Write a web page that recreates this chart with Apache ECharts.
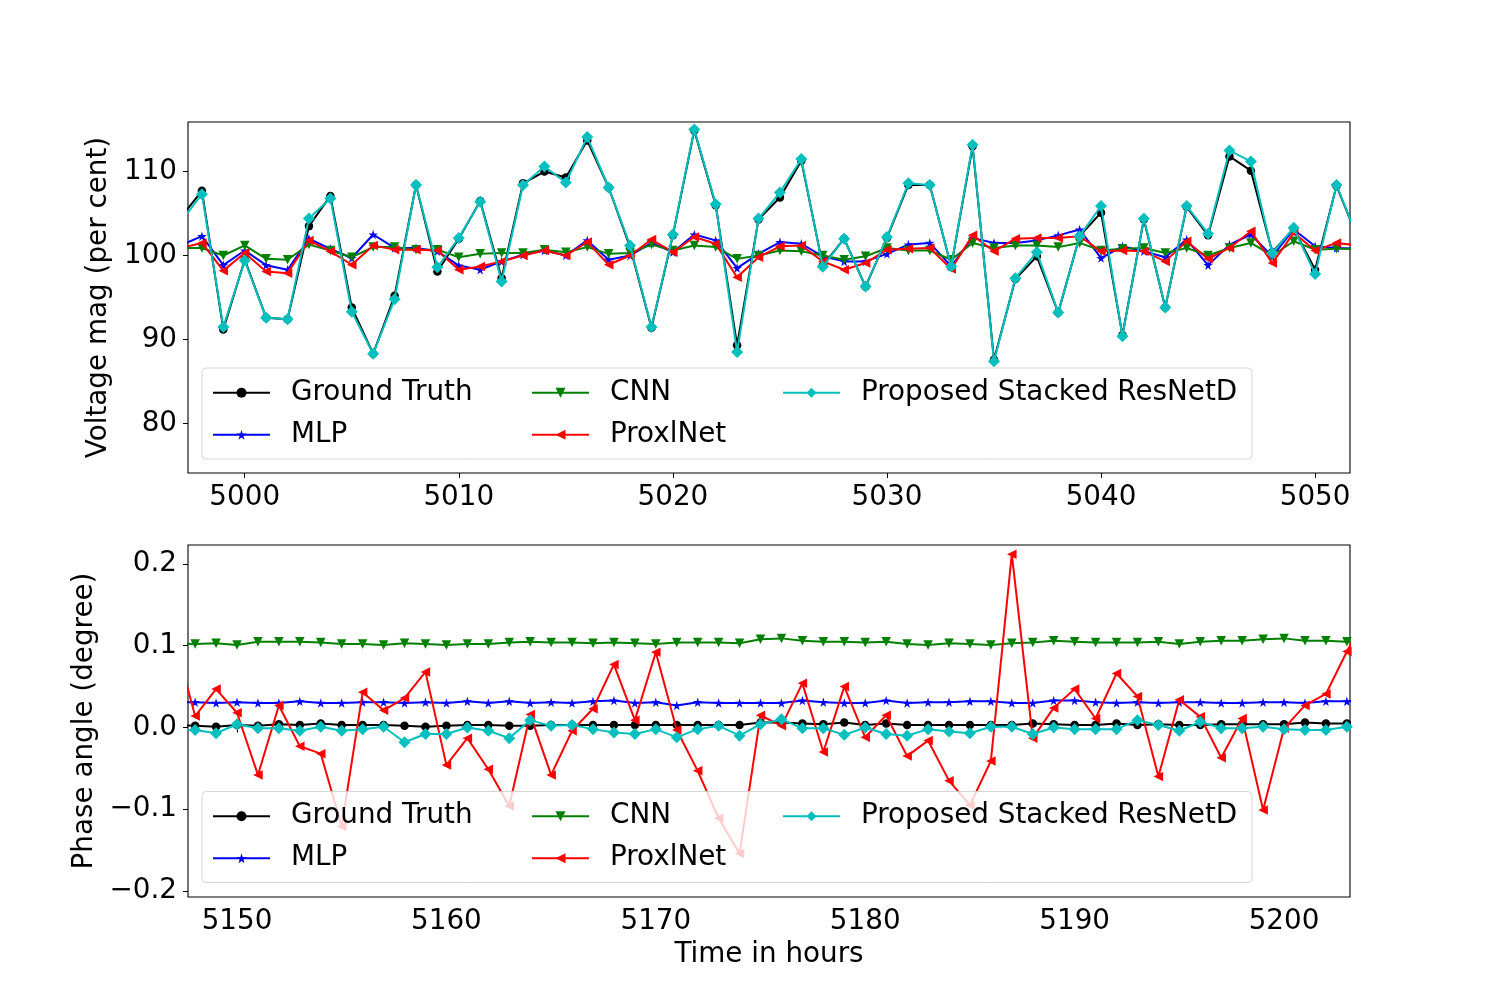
<!DOCTYPE html>
<html>
<head>
<meta charset="utf-8">
<script src="https://cdn.jsdelivr.net/npm/echarts@6/dist/echarts.min.js"></script>
<style>
html,body{margin:0;padding:0;background:#fff;}
#chart{width:1500px;height:1007px;}
</style>
</head>
<body>
<div id="chart"></div>
<script>
// ---------- DATA ----------
var seriesNames = ['Ground Truth', 'MLP', 'CNN', 'ProxlNet', 'Proposed Stacked ResNetD'];

// Top panel: voltage magnitude (per cent)
var topHours = [4997,4998,4999,5000,5001,5002,5003,5004,5005,5006,5007,5008,5009,5010,5011,5012,5013,5014,5015,5016,5017,5018,5019,5020,5021,5022,5023,5024,5025,5026,5027,5028,5029,5030,5031,5032,5033,5034,5035,5036,5037,5038,5039,5040,5041,5042,5043,5044,5045,5046,5047,5048,5049,5050,5051,5052];
var topGT = [104.5,107.7,91.2,99.5,92.6,92.4,103.5,107.1,93.8,88.3,95.2,108.4,98.1,102.0,106.5,97.3,108.6,110.0,109.3,113.7,108.1,101.0,91.4,102.4,114.9,106.0,89.3,104.3,106.9,111.3,98.8,102.0,96.3,102.1,108.4,108.4,98.7,113.0,87.6,97.2,99.9,93.2,102.3,105.1,90.5,104.3,93.8,105.8,102.4,111.8,110.1,100.4,103.2,98.3,108.3,102.0];
var topMLP = [101.2,102.3,98.85,100.6,98.85,98.3,102.0,100.8,99.7,102.5,100.9,100.9,100.5,98.8,98.3,99.3,100.1,100.6,100.0,101.8,99.5,100.0,101.5,100.4,102.5,101.8,98.5,100.2,101.6,101.4,99.9,99.3,99.3,100.2,101.3,101.5,98.7,102.1,101.5,101.5,101.8,102.4,103.1,99.7,101.1,100.5,99.8,101.9,98.85,101.3,102.5,99.9,103.1,101.1,100.9,100.8];
var topCNN = [100.9,100.9,100.0,101.2,99.6,99.5,101.3,100.6,99.8,101.0,101.0,100.7,100.7,99.8,100.2,100.3,100.3,100.7,100.4,101.0,100.2,100.3,101.3,100.6,101.2,101.0,99.6,100.0,100.6,100.5,100.0,99.5,99.9,100.9,100.6,100.6,99.5,101.5,100.9,101.2,101.2,101.0,101.5,100.6,100.8,100.9,100.3,100.9,100.0,100.9,101.5,100.0,101.7,100.7,100.8,100.8];
var topProx = [100.9,101.5,98.2,100.3,98.1,97.9,101.8,100.5,98.9,101.2,100.7,100.7,100.6,98.3,98.7,99.3,100.0,100.6,100.0,101.6,98.9,100.0,101.9,100.4,102.2,101.4,97.4,99.8,101.1,101.2,99.3,98.3,99.1,100.7,100.8,100.9,98.4,102.4,100.5,102.0,102.1,102.1,102.3,100.5,100.6,100.5,99.3,101.7,99.6,100.9,102.9,99.1,102.7,100.6,101.5,101.2];
var topRes = [104.0,107.3,91.5,99.4,92.6,92.4,104.4,106.8,93.3,88.3,94.8,108.4,98.6,102.1,106.4,96.9,108.4,110.6,108.7,114.1,108.1,101.2,91.5,102.5,115.0,106.1,88.5,104.4,107.5,111.5,98.65,102.0,96.3,102.2,108.6,108.4,98.7,113.2,87.4,97.3,100.4,93.2,102.3,105.9,90.4,104.4,93.8,105.9,102.6,112.5,111.2,100.3,103.3,97.8,108.4,102.0];
var topXTicks = [5000,5010,5020,5030,5040,5050];
var topYTicks = [80,90,100,110];

// Bottom panel: phase angle (degree)
var botHours = [5147,5148,5149,5150,5151,5152,5153,5154,5155,5156,5157,5158,5159,5160,5161,5162,5163,5164,5165,5166,5167,5168,5169,5170,5171,5172,5173,5174,5175,5176,5177,5178,5179,5180,5181,5182,5183,5184,5185,5186,5187,5188,5189,5190,5191,5192,5193,5194,5195,5196,5197,5198,5199,5200,5201,5202,5203,5204];
var botGT = [0.003,0.002,0.001,0.003,0.002,0.004,0.003,0.005,0.003,0.003,0.003,0.002,0.001,0.002,0.003,0.003,0.002,0.002,0.003,0.003,0.003,0.003,0.003,0.003,0.003,0.003,0.003,0.003,0.006,0.006,0.005,0.004,0.006,0.003,0.005,0.003,0.003,0.003,0.003,0.003,0.003,0.005,0.004,0.003,0.003,0.005,0.003,0.004,0.003,0.003,0.004,0.004,0.004,0.004,0.006,0.005,0.005,0.005];
var botMLP = [0.031,0.031,0.030,0.031,0.030,0.030,0.032,0.030,0.030,0.031,0.031,0.030,0.031,0.030,0.032,0.030,0.032,0.030,0.031,0.030,0.032,0.033,0.030,0.031,0.027,0.031,0.030,0.030,0.030,0.030,0.033,0.031,0.030,0.030,0.033,0.030,0.031,0.031,0.032,0.032,0.030,0.030,0.033,0.033,0.031,0.030,0.031,0.030,0.031,0.031,0.030,0.030,0.031,0.031,0.030,0.032,0.032,0.032];
var botCNN = [0.103,0.102,0.103,0.101,0.105,0.105,0.105,0.104,0.102,0.102,0.101,0.103,0.102,0.101,0.102,0.102,0.104,0.105,0.104,0.104,0.103,0.104,0.103,0.102,0.104,0.104,0.104,0.103,0.108,0.109,0.106,0.105,0.105,0.104,0.105,0.102,0.101,0.103,0.102,0.101,0.103,0.104,0.106,0.105,0.104,0.104,0.104,0.105,0.102,0.105,0.106,0.106,0.108,0.109,0.106,0.106,0.105,0.105];
var botProx = [0.11,0.014,0.047,0.018,-0.058,0.027,-0.023,-0.032,-0.121,0.043,0.021,0.036,0.068,-0.046,-0.013,-0.051,-0.096,0.016,-0.058,-0.004,0.023,0.077,0.009,0.092,-0.003,-0.053,-0.111,-0.154,0.015,0.002,0.054,-0.030,0.050,-0.012,0.015,-0.035,-0.016,-0.065,-0.095,-0.041,0.212,-0.013,0.024,0.047,0.011,0.066,0.038,-0.060,0.034,0.013,-0.037,0.011,-0.101,-0.001,0.027,0.041,0.093,0.14];
var botRes = [-0.002,-0.003,-0.007,0.004,-0.001,-0.001,-0.004,0.001,-0.004,-0.002,0.001,-0.018,-0.008,-0.008,0.0,-0.004,-0.013,0.009,0.002,0.003,-0.002,-0.006,-0.008,-0.002,-0.012,-0.002,0.002,-0.010,0.004,0.010,-0.001,-0.001,-0.009,0.0,-0.008,-0.010,-0.002,-0.005,-0.007,0.001,0.001,-0.008,0.0,-0.002,-0.002,-0.002,0.009,0.003,-0.004,0.007,-0.001,-0.001,0.001,-0.002,-0.003,-0.003,0.001,0.001];
var botXTicks = [5150,5160,5170,5180,5190,5200];
var botYTicks = [-0.2,-0.1,0.0,0.1,0.2];

// ---------- STYLE ----------
var FONT = 'DejaVu Sans';
var FS = 27.8;
var colors = ['#000000', '#0000ff', '#008000', '#ff0000', '#00bfbf'];
var starPath = 'path://M50,0 L61,35 L98,35 L68,57 L79,91 L50,70 L21,91 L32,57 L2,35 L39,35 Z';
var symbols = ['circle', starPath, 'triangle', 'triangle', 'diamond'];
var symbolSizes = [8.5, 9.5, 9.5, 9.5, 12];
var symbolRotates = [0, 0, 180, 90, 0];

function pairs(xs, ys) {
  var out = [];
  for (var i = 0; i < xs.length; i++) out.push([xs[i], ys[i]]);
  return out;
}
function fmtMinus(v, d) {
  var s = Math.abs(v) < 1e-9 ? (0).toFixed(d) : v.toFixed(d);
  return s.replace('-', '\u2212');
}

var topData = [topGT, topMLP, topCNN, topProx, topRes];
var botData = [botGT, botMLP, botCNN, botProx, botRes];

var series = [];
[0, 1].forEach(function (g) {
  var xs = g === 0 ? topHours : botHours;
  var dd = g === 0 ? topData : botData;
  for (var k = 0; k < 5; k++) {
    series.push({
      name: seriesNames[k],
      type: 'line',
      xAxisIndex: g,
      yAxisIndex: g,
      data: pairs(xs, dd[k]),
      symbol: symbols[k],
      symbolSize: symbolSizes[k],
      symbolRotate: symbolRotates[k],
      showAllSymbol: true,
      clip: true,
      animation: false,
      z: 2 + k * 0.01,
      lineStyle: { color: colors[k], width: 2 },
      itemStyle: { color: colors[k], borderWidth: 0 },
      emphasis: { disabled: true }
    });
  }
});

function xAxisCfg(g, min, max, ticks, name) {
  return {
    type: 'value', gridIndex: g, min: min, max: max,
    axisLine: { show: false },
    axisTick: { show: true, length: 5, lineStyle: { color: '#000', width: 1 }, customValues: ticks },
    axisLabel: { show: true, margin: 11, color: '#000', fontFamily: FONT, fontSize: FS, customValues: ticks,
      formatter: function (v) { return String(Math.round(v)); } },
    splitLine: { show: false },
    name: name || '', nameLocation: 'middle', nameGap: 44,
    nameTextStyle: { color: '#000', fontFamily: FONT, fontSize: FS }
  };
}
function yAxisCfg(g, min, max, ticks, name, gap, dec) {
  return {
    type: 'value', gridIndex: g, min: min, max: max,
    axisLine: { show: false },
    axisTick: { show: true, length: 5, lineStyle: { color: '#000', width: 1 }, customValues: ticks },
    axisLabel: { show: true, margin: 11, color: '#000', fontFamily: FONT, fontSize: FS, customValues: ticks,
      padding: [6, 0, 0, 0],
      formatter: function (v) { return fmtMinus(v, dec); } },
    splitLine: { show: false },
    name: name, nameLocation: 'middle', nameGap: gap, nameRotate: 90,
    nameTextStyle: { color: '#000', fontFamily: FONT, fontSize: FS }
  };
}

function legendCols(boxTop) {
  var common = {
    orient: 'vertical', padding: 0, itemWidth: 57, itemHeight: 12.5, itemGap: 12,
    top: boxTop + 24.7 - 15,
    backgroundColor: 'transparent',
    selectedMode: false,
    textStyle: { color: '#000', fontFamily: FONT, fontSize: FS, lineHeight: 30, padding: [0, 0, 0, 16] },
    z: 6
  };
  return [
    Object.assign({}, common, { left: 212, data: ['Ground Truth', 'MLP'] }),
    Object.assign({}, common, { left: 531, data: ['CNN', 'ProxlNet'] }),
    Object.assign({}, common, { left: 782, data: ['Proposed Stacked ResNetD'] })
  ];
}

var topBox = 368, botBox = 791.5;

var option = {
  backgroundColor: '#ffffff',
  animation: false,
  grid: [
    { left: 188, top: 122, width: 1162, height: 351, show: true, borderColor: '#000', borderWidth: 1.1, backgroundColor: 'transparent', z: 1 },
    { left: 188, top: 545, width: 1162, height: 352, show: true, borderColor: '#000', borderWidth: 1.1, backgroundColor: 'transparent', z: 1 }
  ],
  xAxis: [
    xAxisCfg(0, 4997.35, 5051.63, topXTicks, ''),
    xAxisCfg(1, 5147.66, 5203.15, botXTicks, 'Time in hours')
  ],
  yAxis: [
    yAxisCfg(0, 74.1, 115.9, topYTicks, 'Voltage mag (per cent)', 64, 0),
    yAxisCfg(1, -0.2073, 0.2232, botYTicks, 'Phase angle (degree)', 76, 1)
  ],
  legend: legendCols(topBox).concat(legendCols(botBox)),
  graphic: [
    { type: 'rect', z: 5, shape: { x: 202, y: topBox, width: 1050, height: 91, r: 4 },
      style: { fill: 'rgba(255,255,255,0.8)', stroke: 'rgba(204,204,204,0.8)', lineWidth: 1 } },
    { type: 'rect', z: 5, shape: { x: 202, y: botBox, width: 1050, height: 91, r: 4 },
      style: { fill: 'rgba(255,255,255,0.8)', stroke: 'rgba(204,204,204,0.8)', lineWidth: 1 } }
  ],
  series: series
};

var chart = echarts.init(document.getElementById('chart'), null, { renderer: 'canvas' });
chart.setOption(option);
</script>
</body>
</html>
